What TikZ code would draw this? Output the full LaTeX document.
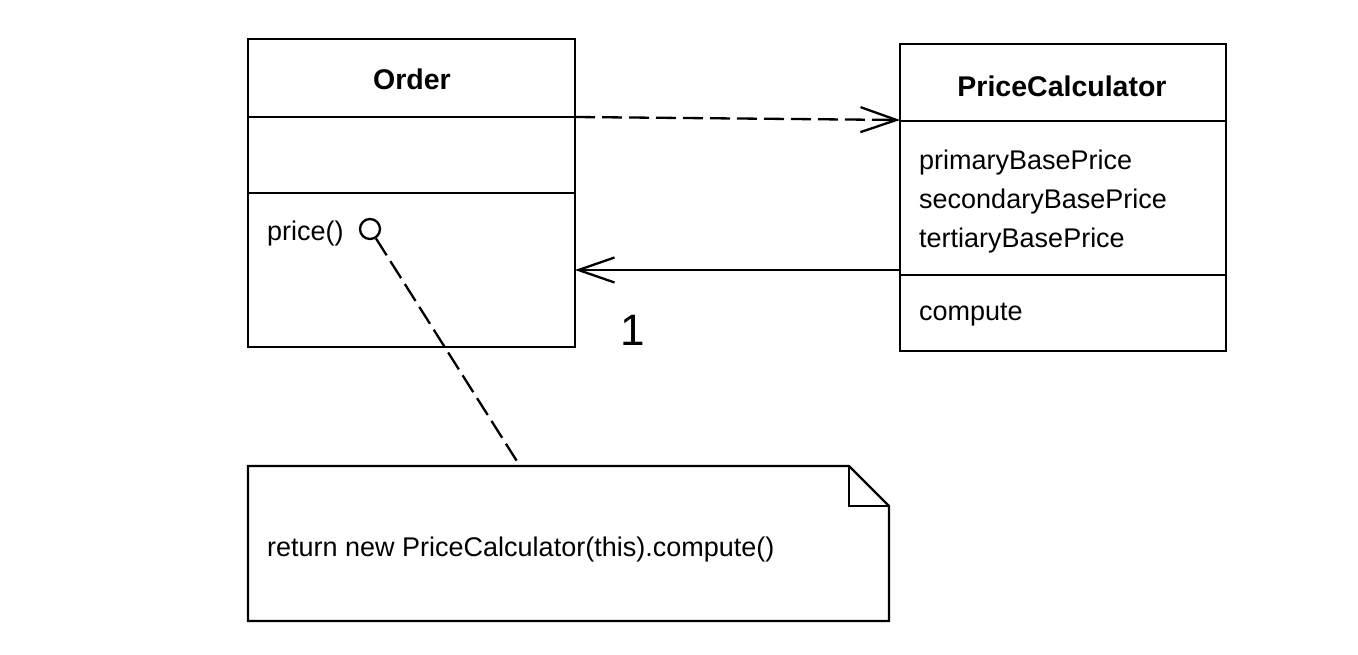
\documentclass[tikz,border=0pt]{standalone}
\usepackage{fontspec}
\setmainfont{Liberation Sans}
\usetikzlibrary{arrows.meta}
\tikzset{
  frame/.style={draw=black, line width=2.3pt, inner sep=0pt, outer sep=0pt, anchor=north west},
  divider/.style={draw=black, line width=2.3pt},
  lbl/.style={inner sep=0pt, anchor=west, font=\fontsize{27}{39}\selectfont},
  ttl/.style={inner sep=0pt, font=\bfseries\fontsize{28.5}{34}\selectfont},
  dashline/.style={line width=2.3pt, dash pattern=on 20pt off 7pt},
  barb/.style={-{Straight Barb[length=36pt,width=25pt,line width=2.3pt]}},
  port/.style={circle, draw=black, line width=2.3pt, minimum size=20pt, inner sep=0pt}
}
\begin{document}
\begin{tikzpicture}[x=1pt,y=-1pt]
\useasboundingbox (0,0) rectangle (1358,654);

% Order class
\node[frame, minimum width=327pt, minimum height=308pt] (order) at (248,39) {};
\draw[divider] (248,117) -- (575,117);
\draw[divider] (248,193) -- (575,193);
\node[ttl] (ordertitle) at (412,79) {Order};
\node[lbl] (price) at (267,234) {price()};
\node[port] (port) at (370,229) {};

% PriceCalculator class
\node[frame, minimum width=326pt, minimum height=307pt] (calc) at (900,44) {};
\draw[divider] (900,121) -- (1226,121);
\draw[divider] (900,275) -- (1226,275);
\node[ttl] (calctitle) at (1062,86) {PriceCalculator};
\node[lbl] (primary) at (919,163) {primaryBasePrice};
\node[lbl] (secondary) at (919,202) {secondaryBasePrice};
\node[lbl] (tertiary) at (919,241) {tertiaryBasePrice};
\node[lbl] (compute) at (919,315) {compute};

% connectors
\coordinate (depsrc) at (575,117);
\coordinate (deptgt) at (900,120);
\draw[dashline, barb] (depsrc) -- (deptgt);

\coordinate (assocsrc) at (900,270);
\coordinate (assoctgt) at (575,270);
\draw[line width=2.3pt, barb] (assocsrc) -- (assoctgt);
\node[inner sep=0pt, font=\fontsize{44}{44}\selectfont] (mult) at (633,330) {1};

% note
\coordinate (n1) at (248,466);
\coordinate (n2) at (849,466);
\coordinate (n3) at (889,506);
\coordinate (n4) at (889,621);
\coordinate (n5) at (248,621);
\coordinate (nf) at (849,506);
\draw[line width=2.3pt, line join=miter] (n1) -- (n2) -- (n3) -- (n4) -- (n5) -- cycle;
\draw[line width=2.3pt] (n2) -- (nf) -- (n3);
\node[lbl] (notetext) at (267,550) {return new PriceCalculator(this).compute()};
\coordinate (notetop) at (520,466);
\draw[dashline] (port) -- (notetop);
\end{tikzpicture}
\end{document}
